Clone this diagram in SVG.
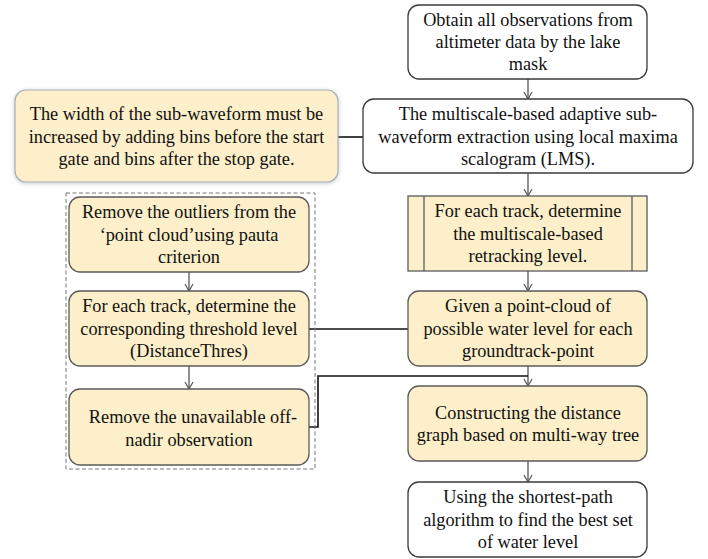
<svg xmlns="http://www.w3.org/2000/svg" width="708" height="559" viewBox="0 0 708 559">
<style>
text{font-family:'Liberation Serif','Times New Roman',serif;font-size:18.3px;fill:#111;text-anchor:middle}
.w{fill:#fff;stroke:#3a3a3a;stroke-width:1.3}
.y{fill:#fcefc9;stroke:#5a5a5a;stroke-width:1.3}
.sh{fill:#fcefc9;stroke:#a9afb8;stroke-width:1.2}
.c{fill:none;stroke:#111;stroke-width:1.6}
.a{fill:none;stroke:#555;stroke-width:1.3;marker-end:url(#ah)}
.d{fill:none;stroke:#777;stroke-width:1;stroke-dasharray:4 2.5}
</style>
<defs>
<marker id="ah" markerWidth="12" markerHeight="12" refX="10" refY="5" orient="auto" markerUnits="userSpaceOnUse">
<path d="M3,1 L10,5 L3,9" fill="none" stroke="#555" stroke-width="1.2"/>
</marker>
<filter id="glow" x="-10%" y="-20%" width="120%" height="140%">
<feDropShadow dx="0" dy="1" stdDeviation="2" flood-color="#8a96a6" flood-opacity="0.5"/>
</filter>
</defs>
<rect width="708" height="559" fill="#fff"/>
<g id="connectors">
<line class="a" x1="528" y1="79" x2="528" y2="99"/>
<line class="a" x1="528" y1="173" x2="528" y2="196"/>
<line class="a" x1="528" y1="271" x2="528" y2="291"/>
<line class="a" x1="528" y1="366" x2="528" y2="386"/>
<line class="a" x1="528" y1="461" x2="528" y2="482"/>
<line class="a" x1="189" y1="272" x2="189" y2="291"/>
<line class="a" x1="189" y1="366" x2="189" y2="389"/>
<line class="c" x1="338" y1="137" x2="363" y2="137"/>
<line class="c" x1="309" y1="329" x2="408" y2="329"/>
<polyline class="c" points="309,427 318,427 318,376 528,376"/>
</g>
<rect class="d" x="66" y="193" width="249" height="276"/>
<g id="n1"><rect class="w" x="408" y="5" width="239" height="74" rx="11"/>
<text x="528" y="26">Obtain all observations from</text><text x="528" y="48">altimeter data by the lake</text><text x="528" y="70">mask</text></g>
<g id="n2"><rect class="w" x="363" y="99" width="330" height="74" rx="11"/>
<text x="528" y="120">The multiscale-based adaptive sub-</text><text x="528" y="142.5">waveform extraction using local maxima</text><text x="528" y="165">scalogram (LMS).</text></g>
<g id="n3"><rect class="sh" filter="url(#glow)" x="15" y="90" width="323" height="92" rx="11"/>
<text x="176.5" y="120">The width of the sub-waveform must be</text><text x="176.5" y="142.5">increased by adding bins before the start</text><text x="176.5" y="165">gate and bins after the stop gate.</text></g>
<g id="n4"><rect class="y" x="408" y="196" width="239" height="75"/>
<line class="y" x1="424" y1="196" x2="424" y2="271"/><line class="y" x1="632" y1="196" x2="632" y2="271"/>
<text x="528" y="217">For each track, determine</text><text x="528" y="239.5">the multiscale-based</text><text x="528" y="262">retracking level.</text></g>
<g id="n5"><rect class="y" x="408" y="291" width="239" height="75" rx="11"/>
<text x="528" y="312">Given a point-cloud of</text><text x="528" y="334.5">possible water level for each</text><text x="528" y="357">groundtrack-point</text></g>
<g id="n6"><rect class="y" x="408" y="386" width="239" height="75" rx="11"/>
<text x="528" y="418.5">Constructing the distance</text><text x="528" y="441">graph based on multi-way tree</text></g>
<g id="n7"><rect class="w" x="408" y="482" width="239" height="75" rx="11"/>
<text x="528" y="503">Using the shortest-path</text><text x="528" y="525.5">algorithm to find the best set</text><text x="528" y="548">of water level</text></g>
<g id="nA"><rect class="y" x="69" y="197" width="240" height="75" rx="11"/>
<text x="189" y="218">Remove the outliers from the</text><text x="189" y="240.5">‘point cloud’using pauta</text><text x="189" y="263">criterion</text></g>
<g id="nB"><rect class="y" x="69" y="291" width="240" height="75" rx="11"/>
<text x="189" y="312">For each track, determine the</text><text x="189" y="334.5">corresponding threshold level</text><text x="189" y="357">(DistanceThres)</text></g>
<g id="nC"><rect class="y" x="69" y="389" width="240" height="76" rx="11"/>
<text x="193" y="423">Remove the unavailable off-</text><text x="189" y="446">nadir observation</text></g>
</svg>
